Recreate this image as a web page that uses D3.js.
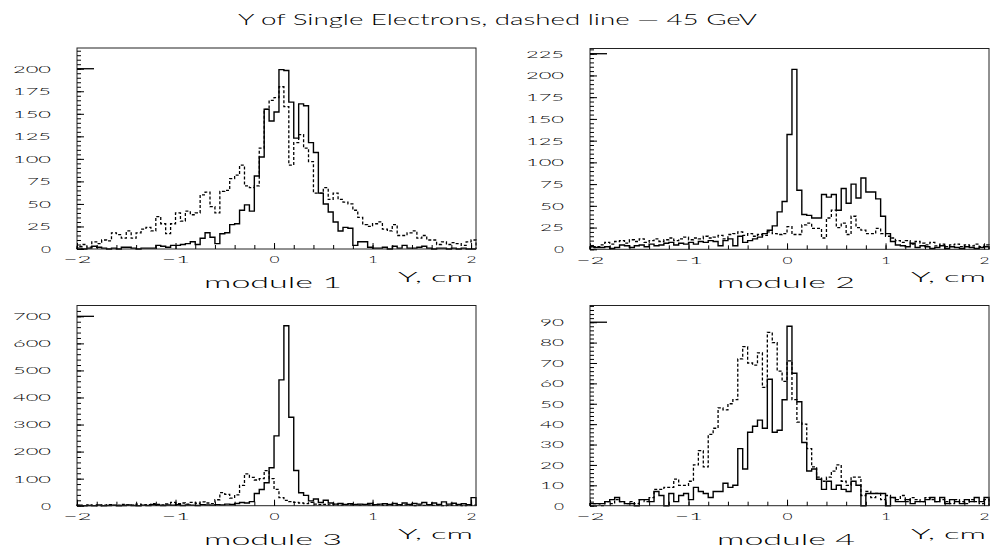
<!DOCTYPE html>
<html><head><meta charset="utf-8">
<script src="https://cdn.jsdelivr.net/npm/d3@7"></script>
<style>
body{margin:0;background:#fff}
svg{display:block}
text{font-family:Lato,"Open Sans","DejaVu Sans",sans-serif;font-weight:300;fill:#000}
</style>
</head><body>
<svg id="c" width="990" height="557"></svg>
<script>
// ---------------- data ----------------
const binStart = -2, binWidth = 0.05;   // 81 bins, -2 .. 2.05
const m1Solid  = [1,0,1,3,2,1,0,1,0,2,2,1,0,1,1,1,4,3,2,4,4,5,6,8,5,12,18,13,6,17,18,27,28,43,49,42,81,102,155,142,152,199,198,163,123,161,159,118,107,62,50,41,30,20,24,23,4,8,8,2,1,1,2,0,3,1,4,1,1,2,3,1,0,1,1,0,1,0,1,0,0];
const m1Dashed = [3,5,2,8,6,10,9,18,16,12,20,12,18,22,24,20,36,28,17,28,40,31,42,38,40,60,63,47,40,64,65,78,82,93,70,68,70,112,155,165,168,180,158,93,118,127,112,97,62,62,68,55,62,55,52,50,43,35,27,25,28,30,22,20,27,15,15,18,20,12,15,10,10,5,8,5,7,6,4,8,10];
const m2Solid  = [3,2,2,3,1,2,5,4,2,4,5,3,6,4,5,7,8,5,7,6,8,6,9,8,10,9,4,10,12,4,15,8,10,12,14,18,22,27,43,55,132,207,68,40,39,36,36,63,60,63,45,70,53,75,59,82,66,66,58,38,18,9,5,4,3,7,2,4,3,1,2,4,1,3,2,1,3,2,1,2,3];
const m2Dashed = [2,3,5,8,6,9,10,7,11,9,12,8,10,12,9,11,13,10,12,14,11,13,12,15,13,14,16,12,17,18,20,16,18,15,17,16,20,18,17,18,26,17,17,28,30,24,24,13,36,45,25,30,17,38,25,22,18,18,24,18,15,13,10,8,10,6,9,7,5,8,4,6,3,5,6,3,5,4,6,3,5];
const m3Solid  = [2,0,1,0,3,0,1,2,0,1,3,1,0,2,1,4,2,1,3,2,4,1,3,2,1,4,3,2,4,3,6,5,8,12,10,15,45,60,85,140,258,465,665,327,130,48,38,18,25,12,20,10,6,8,5,7,4,6,5,8,4,6,7,5,8,4,10,5,8,6,12,4,10,5,14,6,9,5,7,4,30];
const m3Dashed = [1,0,3,1,0,2,4,1,2,5,3,2,6,3,4,8,5,3,7,12,8,10,6,12,9,14,10,8,22,48,42,28,40,75,118,105,95,100,130,100,60,30,20,15,12,10,8,12,6,4,5,3,6,2,4,3,5,2,4,3,2,4,1,3,2,1,3,2,0,2,1,3,1,2,0,1,2,1,0,1,2];
const m4Solid  = [1,1,1,2,3,4,2,1,1,0,3,3,2,7,5,0,6,2,5,6,3,9,7,6,4,7,7,11,9,10,28,18,36,39,42,38,62,36,37,52,88,65,51,31,17,18,13,8,12,8,10,8,7,12,10,0,6,6,6,6,0,4,2,2,3,1,2,2,3,4,2,4,1,3,2,1,3,2,4,2,4];
const m4Dashed = [1,1,0,2,1,3,2,1,2,1,3,2,4,8,8,9,9,13,10,10,12,20,27,19,35,38,48,47,50,52,72,78,70,69,75,58,85,80,66,61,71,52,41,40,28,19,14,12,14,17,20,12,10,14,14,5,7,4,6,3,5,4,3,5,2,4,3,2,4,3,2,3,2,1,3,2,1,3,2,1,3];

const xTicks   = [-2,-1,0,1,2];
const yTicks1  = [0,25,50,75,100,125,150,175,200];
const yTicks2  = [0,25,50,75,100,125,150,175,200,225];
const yTicks3  = [0,100,200,300,400,500,600,700];
const yTicks4  = [0,10,20,30,40,50,60,70,80,90];
const moduleNames = ["module 1","module 2","module 3","module 4"];
const titleText = "Y of Single Electrons, dashed line \u2014 45 GeV";
const xAxisLabel = "Y, cm";

// ---------------- layout ----------------
const panels = [
  {solid:m1Solid, dashed:m1Dashed, ticks:yTicks1, yMax:223, minor:5,  name:moduleNames[0], left:77,  top:48,    bottom:249},
  {solid:m2Solid, dashed:m2Dashed, ticks:yTicks2, yMax:231, minor:5,  name:moduleNames[1], left:590, top:48.5,  bottom:249.3},
  {solid:m3Solid, dashed:m3Dashed, ticks:yTicks3, yMax:740, minor:20, name:moduleNames[2], left:77,  top:305.5, bottom:505.7},
  {solid:m4Solid, dashed:m4Dashed, ticks:yTicks4, yMax:98.2,minor:2,  name:moduleNames[3], left:590, top:305.5, bottom:505.7}
];
const W = 399;
const svg = d3.select("#c");
const FONT = 'Lato, "Open Sans", "DejaVu Sans", sans-serif';

function stretch(sel, perChar, extra) {
  sel.each(function(){
    const t = this.textContent;
    let w = 0;
    for (const ch of t) w += (ch === "\u2212" ? 18 : perChar);
    w -= extra;
    d3.select(this).attr("textLength", w).attr("lengthAdjust","spacingAndGlyphs");
  });
}

svg.append("text").attr("x",497.5).attr("y",25).attr("text-anchor","middle")
  .attr("font-size",15).attr("textLength",519).attr("lengthAdjust","spacingAndGlyphs").text(titleText);

panels.forEach(p => {
  const nb = p.solid.length;
  const x = d3.scaleLinear().domain([binStart, binStart + nb*binWidth]).range([p.left, p.left + W]);
  const y = d3.scaleLinear().domain([0, p.yMax]).range([p.bottom, p.top]);
  const g = svg.append("g");

  const pts = vals => {
    const a = [[binStart, 0]];
    vals.forEach((v,i) => a.push([binStart + i*binWidth, v]));
    const end = binStart + vals.length*binWidth;
    a.push([end, vals[vals.length-1]]);
    a.push([end, 0]);
    return a;
  };
  const line = d3.line().x(d => x(d[0])).y(d => y(d[1])).curve(d3.curveStepAfter);

  g.append("path").attr("d", line(pts(p.dashed))).attr("fill","none")
    .attr("stroke","#000").attr("stroke-width",1.3).attr("stroke-dasharray","3,2");
  g.append("path").attr("d", line(pts(p.solid))).attr("fill","none")
    .attr("stroke","#000").attr("stroke-width",1.4);

  // frame
  g.append("rect").attr("x",p.left).attr("y",p.top).attr("width",W).attr("height",p.bottom-p.top)
    .attr("fill","none").attr("stroke","#222").attr("stroke-width",1);

  // y minor ticks
  const yMinor = d3.range(0, p.yMax, p.minor);
  const ym = g.append("g").attr("transform",`translate(${p.left},0)`)
    .call(d3.axisLeft(y).tickValues(yMinor).tickSize(-4).tickFormat(""));
  ym.select(".domain").remove();
  // y major ticks + labels
  const yM = g.append("g").attr("transform",`translate(${p.left},0)`)
    .call(d3.axisLeft(y).tickValues(p.ticks).tickSize(-7).tickPadding(26).tickFormat(d3.format("d")));
  yM.select(".domain").remove();
  yM.selectAll("text").attr("font-family",FONT).attr("font-weight",300).attr("font-size",10.5).call(stretch, 14, 4);
  // long tick at the top label
  const topTick = p.ticks[p.ticks.length-1];
  g.append("line").attr("x1",p.left).attr("x2",p.left+17).attr("y1",y(topTick)).attr("y2",y(topTick))
    .attr("stroke","#000").attr("stroke-width",1.3);

  // x minor ticks
  const xMinor = d3.range(-10, 11, 1).map(k => k*0.2);
  const xm = g.append("g").attr("transform",`translate(0,${p.bottom})`)
    .call(d3.axisBottom(x).tickValues(xMinor).tickSize(-4).tickFormat(""));
  xm.select(".domain").remove();
  const xM = g.append("g").attr("transform",`translate(0,${p.bottom})`)
    .call(d3.axisBottom(x).tickValues(xTicks).tickSize(-6).tickPadding(7).tickFormat(d3.format("d")));
  xM.select(".domain").remove();
  xM.selectAll("text").attr("font-family",FONT).attr("font-weight",300).attr("font-size",10.5).call(stretch, 14, 4);

  // axis title and module name
  g.append("text").attr("x",p.left+396).attr("y",p.bottom+33).attr("text-anchor","end")
    .attr("font-size",13).attr("textLength",75).attr("lengthAdjust","spacingAndGlyphs").text(xAxisLabel);
  g.append("text").attr("x",p.left+127).attr("y",p.bottom+39)
    .attr("font-size",16).attr("textLength",138).attr("lengthAdjust","spacingAndGlyphs").text(p.name);
});
</script>
</body></html>
